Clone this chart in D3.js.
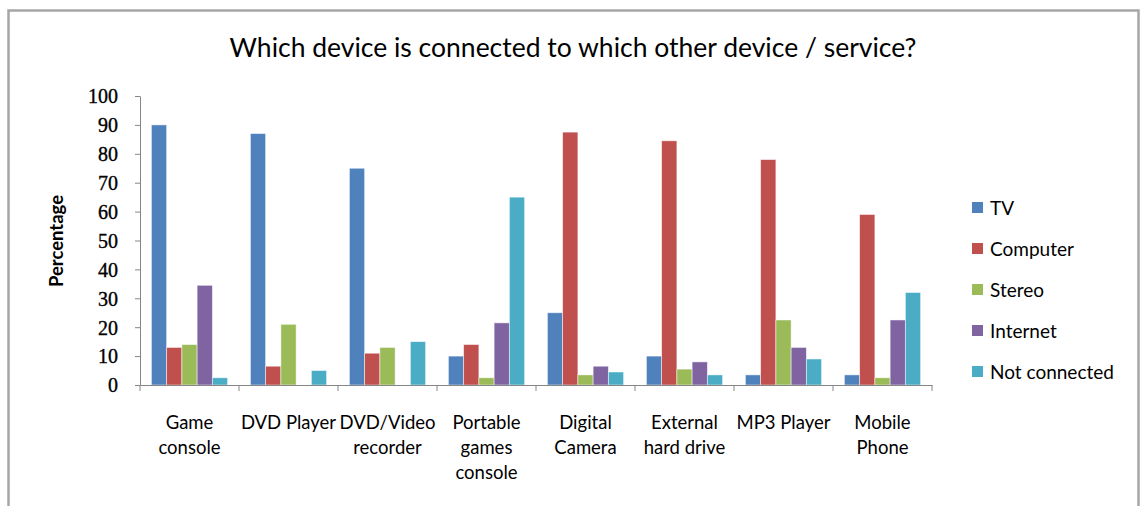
<!DOCTYPE html>
<html>
<head>
<meta charset="utf-8">
<script src="https://cdn.jsdelivr.net/npm/d3@7"></script>
<style>
html,body{margin:0;padding:0;background:#fff;}
svg{display:block;}
</style>
</head>
<body>
<svg id="chart" width="1146" height="506"></svg>
<script>
const categories = [
  ["Game", "console"],
  ["DVD Player"],
  ["DVD/Video", "recorder"],
  ["Portable", "games", "console"],
  ["Digital", "Camera"],
  ["External", "hard drive"],
  ["MP3 Player"],
  ["Mobile", "Phone"]
];
const seriesNames = ["TV", "Computer", "Stereo", "Internet", "Not connected"];
const tvValues        = [90, 87, 75, 10, 25, 10, 3.5, 3.5];
const computerValues  = [13, 6.5, 11, 14, 87.5, 84.5, 78, 59];
const stereoValues    = [14, 21, 13, 2.5, 3.5, 5.5, 22.5, 2.5];
const internetValues  = [34.5, 0, 0, 21.5, 6.5, 8, 13, 22.5];
const notConnValues   = [2.5, 5, 15, 65, 4.5, 3.5, 9, 32];
const yTicks = [0, 10, 20, 30, 40, 50, 60, 70, 80, 90, 100];
const colors = ["#4F81BD", "#C0504D", "#9BBB59", "#8064A2", "#4BACC6"];
const title = "Which device is connected to which other device / service?";
const yTitle = "Percentage";

const series = [tvValues, computerValues, stereoValues, internetValues, notConnValues];
const svg = d3.select("#chart");
const sans = "Lato, 'Open Sans', sans-serif";

// frame
svg.append("rect").attr("x", 8.5).attr("y", 10.5).attr("width", 1130).attr("height", 510)
  .attr("fill", "#fff").attr("stroke", "#a6a6a6").attr("stroke-width", 2.5);

const plot = {left: 140, right: 932, top: 96, bottom: 385};
const x0 = d3.scaleBand().domain(d3.range(categories.length)).range([plot.left, plot.right]).paddingInner(0).paddingOuter(0);
const innerPad = 0.115;
const x1 = d3.scaleBand().domain(d3.range(seriesNames.length))
  .range([x0.bandwidth() * innerPad, x0.bandwidth() * (1 - innerPad)]);
const y = d3.scaleLinear().domain([0, 100]).range([plot.bottom, plot.top]);

// title
svg.append("text").attr("x", 573).attr("y", 57).attr("text-anchor", "middle")
  .attr("font-family", sans).attr("font-size", 26.5).attr("fill", "#000").text(title);

// bars
const groups = svg.append("g").selectAll("g").data(categories).join("g")
  .attr("transform", (d, i) => `translate(${x0(i)},0)`);
groups.selectAll("rect").data((d, i) => series.map((s, k) => ({k, v: s[i]})))
  .join("rect")
  .attr("x", d => x1(d.k))
  .attr("width", x1.bandwidth())
  .attr("y", d => y(d.v))
  .attr("height", d => y(0) - y(d.v))
  .attr("fill", d => colors[d.k])
  .attr("stroke", d => d.v > 0 ? "rgba(255,255,255,0.6)" : "none")
  .attr("stroke-width", 0.8);

// y axis
const yAxis = d3.axisLeft(y).tickValues(yTicks).tickSize(5).tickSizeOuter(0);
const gy = svg.append("g").attr("transform", `translate(${plot.left},0)`).call(yAxis);
gy.select(".domain").attr("stroke", "#868686");
gy.selectAll(".tick line").attr("stroke", "#868686");
gy.selectAll(".tick text").attr("font-family", "'Liberation Serif', serif")
  .attr("font-size", 20).attr("fill", "#000").attr("stroke", "#000").attr("stroke-width", 0.35)
  .attr("x", -22).attr("dy", "0.34em");

// x axis
const xAxis = d3.axisBottom(x0).tickValues([]).tickSizeOuter(0);
const gx = svg.append("g").attr("transform", `translate(0,${plot.bottom})`).call(xAxis);
gx.select(".domain").attr("stroke", "#868686");
const boundaries = d3.range(categories.length + 1).map(i => plot.left + i * x0.bandwidth());
gx.selectAll(".bt").data(boundaries).join("line").attr("class", "bt")
  .attr("x1", d => d).attr("x2", d => d).attr("y1", 0).attr("y2", 6).attr("stroke", "#868686");

// category labels
const labels = svg.append("g").selectAll("text").data(categories).join("text")
  .attr("text-anchor", "middle")
  .attr("font-family", sans).attr("font-size", 18.5).attr("fill", "#000")
  .attr("x", (d, i) => x0(i) + x0.bandwidth() / 2)
  .attr("y", 429);
labels.selectAll("tspan").data(d => d).join("tspan")
  .attr("x", function() { return d3.select(this.parentNode).attr("x"); })
  .attr("dy", (d, i) => i === 0 ? 0 : 25)
  .text(d => d);

// y axis title
svg.append("text").attr("transform", "translate(63,241) rotate(-90)")
  .attr("text-anchor", "middle").attr("font-family", sans).attr("font-weight", "bold")
  .attr("font-size", 18.5).attr("fill", "#000").text(yTitle);

// legend
const legend = svg.append("g").selectAll("g").data(seriesNames).join("g")
  .attr("transform", (d, i) => `translate(972,${208 + i * 41})`);
legend.append("rect").attr("x", 0).attr("y", -6).attr("width", 11).attr("height", 11)
  .attr("fill", (d, i) => colors[i]);
legend.append("text").attr("x", 18).attr("y", 0).attr("dy", "0.35em")
  .attr("font-family", sans).attr("font-size", 19).attr("fill", "#000").text(d => d);
</script>
</body>
</html>
